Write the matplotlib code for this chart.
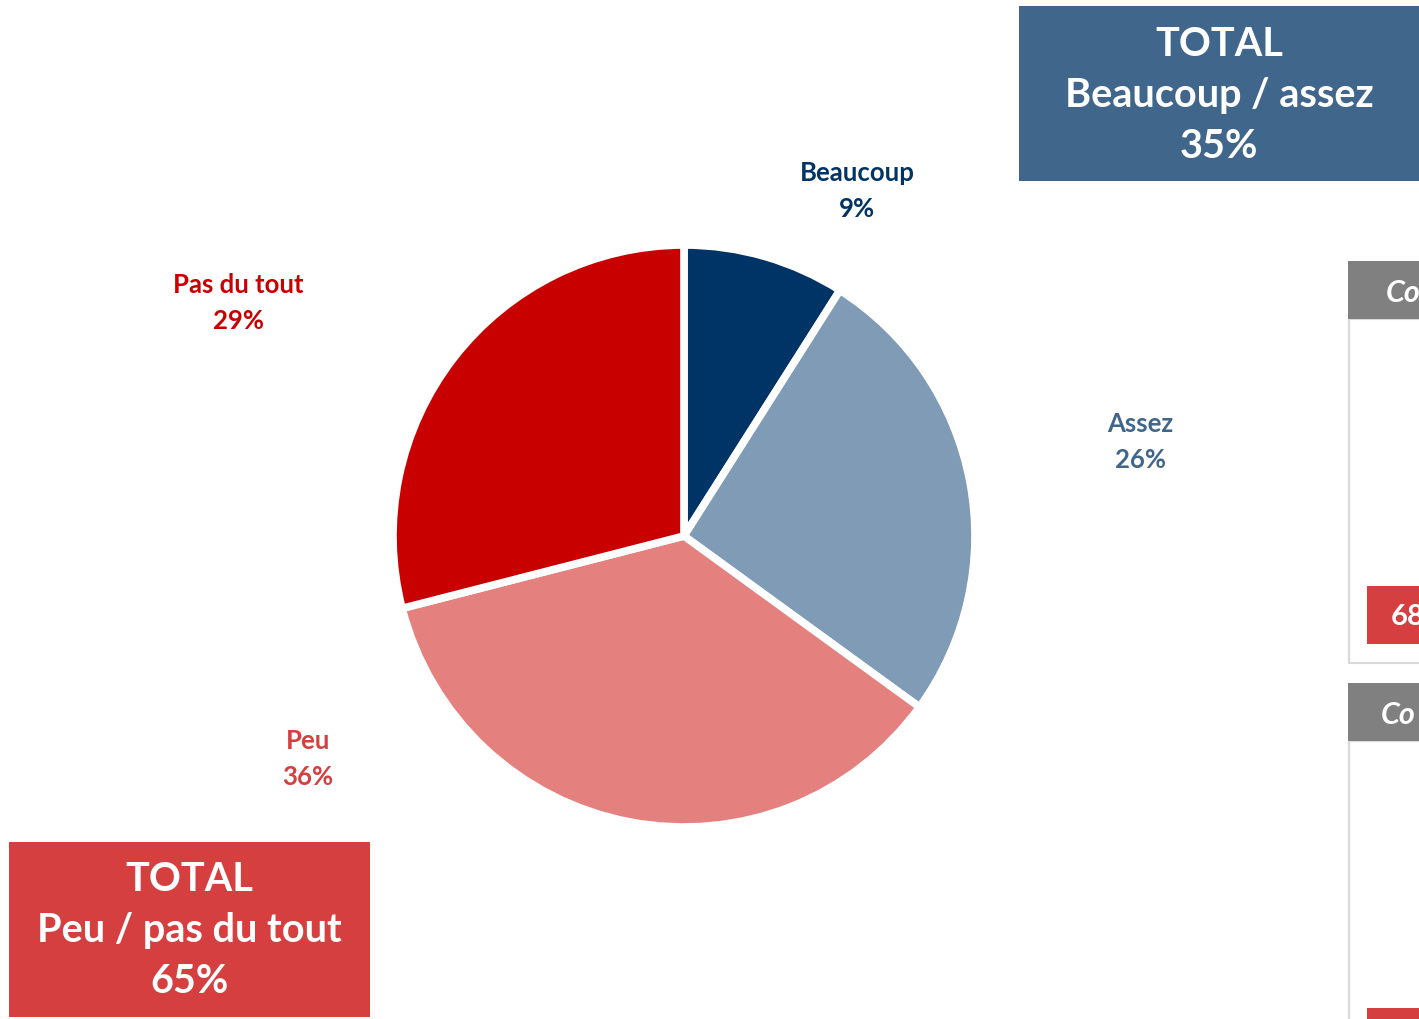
import matplotlib
matplotlib.use("Agg")
import matplotlib.pyplot as plt
from matplotlib.patches import Rectangle

plt.rcParams["font.family"] = ["Lato", "DejaVu Sans"]

# data
categories = ["Beaucoup", "Assez", "Peu", "Pas du tout"]
values = [9, 26, 36, 29]
colors = ["#003366", "#7f9bb5", "#e4807e", "#c80000"]
label_colors = ["#003366", "#41668c", "#d63f3f", "#c80000"]
label_pos = [(857, 191), (1140, 442), (308, 759), (238, 303)]
total_top = ("TOTAL", "Beaucoup / assez", "35%")
total_bottom = ("TOTAL", "Peu / pas du tout", "65%")

W, H = 1419, 1020
fig = plt.figure(figsize=(W / 100, H / 100), dpi=100)

# pie axes: center (684, 537), radius ~290 px
cx, cy, r = 684, 537, 291
pax = fig.add_axes([(cx - r) / W, (H - cy - r) / H, 2 * r / W, 2 * r / H])
pax.pie(values, colors=colors, startangle=90, counterclock=False, radius=1,
        wedgeprops={"edgecolor": "white", "linewidth": 5.5})
pax.set_xlim(-1, 1)
pax.set_ylim(-1, 1)
pax.set_aspect("equal")
pax.axis("off")

# overlay in pixel coords
ov = fig.add_axes([0, 0, 1, 1])
ov.set_xlim(0, W)
ov.set_ylim(H, 0)
ov.axis("off")
ov.patch.set_alpha(0)

for cat, val, c, (x, y) in zip(categories, values, label_colors, label_pos):
    ov.text(x, y, f"{cat}\n{val}%", color=c, fontsize=18.5, fontweight="bold",
            ha="center", va="center", linespacing=1.6)

# total boxes
ov.add_patch(Rectangle((1019, 7), 420, 175, facecolor="#41668c", edgecolor="none"))
for i, t in enumerate(total_top):
    ov.text(1219, 44 + 51.5 * i, t, color="white", fontsize=28.5, fontweight="bold",
            ha="center", va="center")
ov.add_patch(Rectangle((9, 843), 361, 175, facecolor="#d63f3f", edgecolor="none"))
for i, t in enumerate(total_bottom):
    ov.text(189, 880 + 51 * i, t, color="white", fontsize=28.5, fontweight="bold",
            ha="center", va="center")

# partial panels cut by the right edge
for top, bottom, red_y, show_num in [(262, 664, 587, True), (684, 1030, 1009, False)]:
    ov.add_patch(Rectangle((1349, top + 58), 100, bottom - top - 58, facecolor="white",
                           edgecolor="#d9d9d9", linewidth=1.5))
    ov.add_patch(Rectangle((1348, top), 100, 58, facecolor="#808080", edgecolor="none"))
    ov.text(1386 if show_num else 1381, top + 31, "Co", color="white", fontsize=22,
            fontweight="bold", style="italic", ha="left", va="center", clip_on=True)
    ov.add_patch(Rectangle((1367, red_y), 80, 58, facecolor="#d63f3f", edgecolor="none"))
    if show_num:
        ov.text(1391, red_y + 30, "68", color="white", fontsize=21, fontweight="bold",
                ha="left", va="center", clip_on=True)

fig.savefig("out.png", dpi=100)
